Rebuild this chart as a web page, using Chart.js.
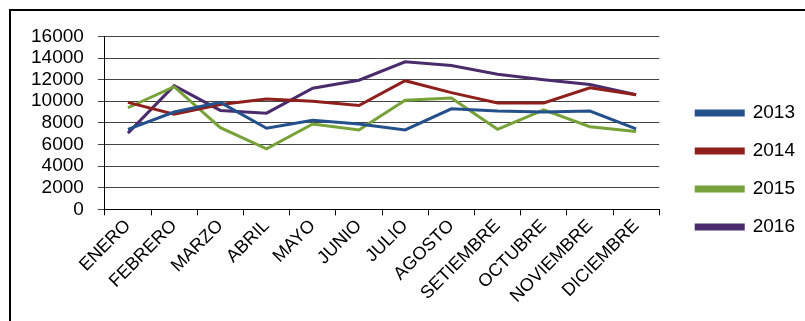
<!DOCTYPE html>
<html>
<head>
<meta charset="utf-8">
<script src="https://cdn.jsdelivr.net/npm/chart.js@4"></script>
<style>
  html, body { margin: 0; padding: 0; background: #fff; overflow: hidden; }
  #box {
    position: absolute; left: 9px; top: 9px;
    width: 830px; height: 330px;
    border-left: 2px solid #000; border-top: 2px solid #000;
  }
  #wrap { position: absolute; left: 0; top: 0; width: 796px; height: 296px; }
</style>
</head>
<body>
<div id="box"><div id="wrap"><canvas id="grafico"></canvas></div></div>
<script>
// Meses (eje X)
const meses = ['ENERO', 'FEBRERO', 'MARZO', 'ABRIL', 'MAYO', 'JUNIO', 'JULIO',
               'AGOSTO', 'SETIEMBRE', 'OCTUBRE', 'NOVIEMBRE', 'DICIEMBRE'];

// Valores por año
const serie2013 = [7400, 9000, 9900, 7500, 8250, 7900, 7350, 9300, 9100, 9000, 9100, 7450];
const serie2014 = [9900, 8800, 9700, 10200, 10000, 9600, 11900, 10800, 9850, 9850, 11250, 10600];
const serie2015 = [9400, 11350, 7550, 5600, 7900, 7350, 10100, 10300, 7400, 9200, 7650, 7200];
const serie2016 = [7050, 11450, 9150, 8900, 11200, 11950, 13650, 13300, 12500, 12000, 11550, 10600];

const anios = ['2013', '2014', '2015', '2016'];
const colores = ['#24508c', '#8e1f1b', '#77a23a', '#4a2c6c'];
const ticksY = [0, 2000, 4000, 6000, 8000, 10000, 12000, 14000, 16000];

const fuente = "'Liberation Sans', Arial, sans-serif";

const series = [serie2013, serie2014, serie2015, serie2016];

new Chart(document.getElementById('grafico'), {
    type: 'line',
    data: {
        labels: meses,
        datasets: series.map((valores, i) => ({
            label: anios[i],
            data: valores,
            borderColor: colores[i],
            backgroundColor: colores[i],
            borderWidth: 3,
            pointRadius: 0,
            tension: 0,
            fill: false
        }))
    },
    options: {
        responsive: true,
        maintainAspectRatio: false,
        animation: false,
        layout: { padding: { top: 6, left: 6, right: 2, bottom: 0 } },
        plugins: {
            tooltip: { enabled: false },
            legend: {
                position: 'right',
                align: 'center',
                // titulo vacio solo para bajar un poco los items
                title: { display: true, text: ' ', font: { size: 5 }, padding: 5 },
                labels: {
                    boxWidth: 47,
                    boxHeight: 4,
                    padding: 19,
                    color: '#000',
                    font: { family: fuente, size: 19 }
                }
            }
        },
        scales: {
            x: {
                offset: true,
                grid: {
                    display: true,
                    offset: true,
                    drawOnChartArea: false,
                    drawTicks: true,
                    tickLength: 6,
                    color: '#000'
                },
                border: { color: '#000', width: 1 },
                ticks: {
                    color: '#000',
                    maxRotation: 45,
                    minRotation: 45,
                    autoSkip: false,
                    padding: 0,
                    font: { family: fuente, size: 18 }
                }
            },
            y: {
                min: 0,
                max: 16000,
                afterBuildTicks: (axis) => { axis.ticks = ticksY.map(v => ({ value: v })); },
                grid: {
                    color: '#444',
                    tickLength: 7,
                    drawTicks: true
                },
                border: { color: '#000', width: 1 },
                ticks: {
                    color: '#000',
                    padding: 14,
                    autoSkip: false,
                    font: { family: fuente, size: 19 },
                    callback: (v) => String(v)
                }
            },
            // eje vacio para dejar espacio entre el grafico y la leyenda
            hueco: {
                position: 'right',
                display: true,
                grid: { display: false },
                border: { display: false },
                ticks: { display: false },
                afterFit: (s) => { s.width = 18; }
            }
        }
    }
});
</script>
</body>
</html>
